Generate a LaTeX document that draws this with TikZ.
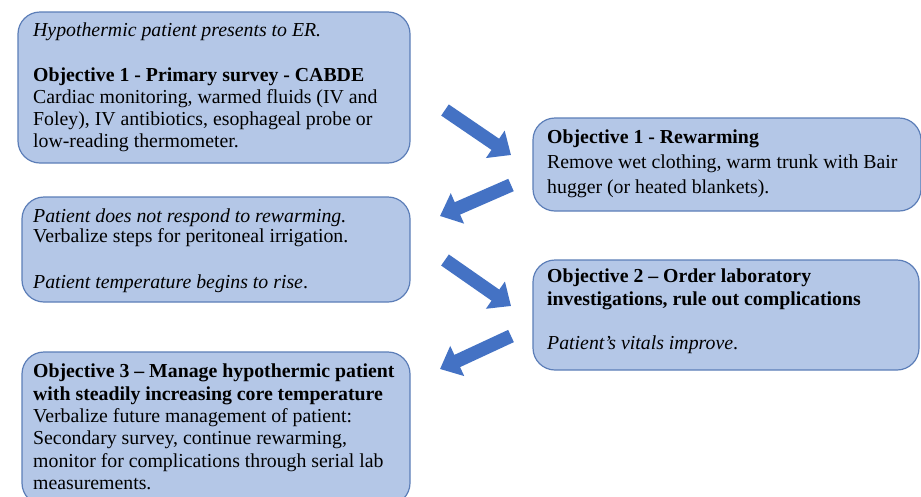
\documentclass[tikz,border=0pt]{standalone}
\usepackage{fontspec}
\setmainfont{Liberation Serif}
\usetikzlibrary{arrows.meta}
\definecolor{boxfill}{RGB}{180,199,231}
\definecolor{boxline}{RGB}{92,126,184}
\definecolor{arrowblue}{RGB}{68,114,196}
\begin{document}
\begin{tikzpicture}[x=1pt,y=-1pt,
  box/.style={draw=boxline, fill=boxfill, line width=1.2pt, rounded corners=22pt, inner sep=0pt},
  txt/.style={anchor=north west, inner sep=0pt, align=left, font=\fontsize{19.8}{22.3}\selectfont},
  txtb/.style={txt, font=\fontsize{19.8}{24.8}\selectfont},
  txtc/.style={txt, font=\fontsize{19.8}{20.5}\selectfont},
  bigarrow/.style={draw=arrowblue, line width=13.5pt, -{Triangle[length=19pt,width=32pt]}}]
\useasboundingbox (0,0) rectangle (921,496);
\clip (0,0) rectangle (921,496);
\fill[white] (0,0) rectangle (921,496);
% boxes
\node[box, minimum width=392pt, minimum height=151pt] (boxA) at (214,87.5) {};
\node[box, minimum width=388pt, minimum height=93pt] (boxB) at (727,164.5) {};
\node[box, minimum width=388pt, minimum height=105pt] (boxC) at (216,249.5) {};
\node[box, minimum width=386pt, minimum height=110pt] (boxD) at (726,315) {};
\node[box, minimum width=388pt, minimum height=153pt] (boxE) at (216,428.5) {};
% texts
\node[txt] (tA) at (33,22.5) {\textit{Hypothermic patient presents to ER.}\\[22.3pt]
\textbf{Objective 1 - Primary survey - CABDE}\\
Cardiac monitoring, warmed fluids (IV and\\
Foley), IV antibiotics, esophageal probe or\\
low-reading thermometer.};
\node[txtb] (tB) at (547,129.6) {\textbf{Objective 1 - Rewarming}\\
Remove wet clothing, warm trunk with Bair\\
hugger (or heated blankets).};
\node[txtc] (tC) at (33,208.5) {\textit{Patient does not respond to rewarming.}\\
Verbalize steps for peritoneal irrigation.\\[25pt]
\textit{Patient temperature begins to rise}.};
\node[txt] (tD) at (547,269) {\textbf{Objective 2 – Order laboratory}\\
\textbf{investigations, rule out complications}\\[22.3pt]
\textit{Patient’s vitals improve}.};
\node[txt] (tE) at (33,364) {\textbf{Objective 3 – Manage hypothermic patient}\\
\textbf{with steadily increasing core temperature}\\
Verbalize future management of patient:\\
Secondary survey, continue rewarming,\\
monitor for complications through serial lab\\
measurements.};
% arrows
\coordinate (a1s) at (445,110); \coordinate (a1e) at (511,155);
\coordinate (a2s) at (511,185); \coordinate (a2e) at (440,216);
\coordinate (a3s) at (445,260); \coordinate (a3e) at (511,306);
\coordinate (a4s) at (511,336); \coordinate (a4e) at (440,369);
\draw[bigarrow] (a1s) -- (a1e);
\draw[bigarrow] (a2s) -- (a2e);
\draw[bigarrow] (a3s) -- (a3e);
\draw[bigarrow] (a4s) -- (a4e);
\end{tikzpicture}
\end{document}
